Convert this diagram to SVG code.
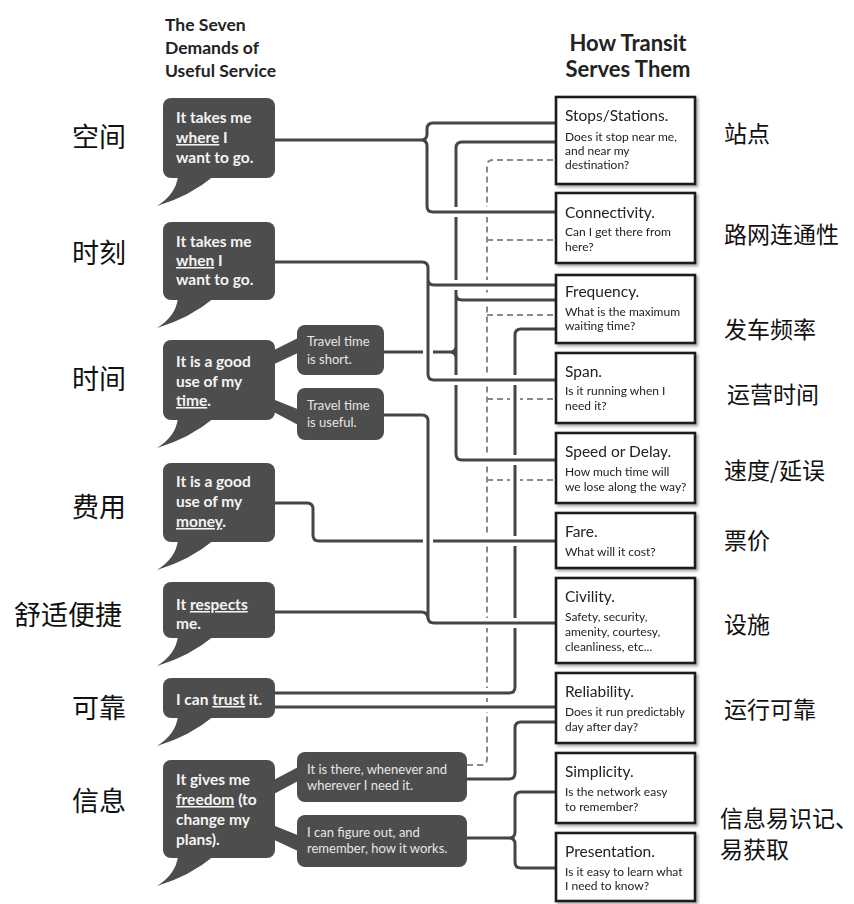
<svg xmlns="http://www.w3.org/2000/svg" width="854" height="904" viewBox="0 0 854 904">
<defs>
<style>
.hdr{font-family:Lato,"Open Sans",sans-serif;font-weight:bold;fill:#222}
.bt{font-family:Lato,"Open Sans",sans-serif;font-weight:bold;font-size:15.5px;fill:#f4f4f4}
.st{font-family:Lato,"Open Sans",sans-serif;font-size:13px;fill:#e6e6e6}
.bub{fill:#4d4d4d}
.box{fill:#fff;stroke:#1e1e1e;stroke-width:2.6}
.tt{font-family:Lato,"Open Sans",sans-serif;font-size:15.5px;fill:#222}
.ts{font-family:Lato,"Open Sans",sans-serif;font-size:12px;fill:#222}
.cnl{font-family:"Noto Sans CJK SC","Noto Sans",sans-serif;font-size:27px;fill:#111;text-anchor:end}
.cnr{font-family:"Noto Sans CJK SC","Noto Sans",sans-serif;font-size:23px;fill:#111}
.u{text-decoration:underline}
.w{fill:none;stroke:#fff;stroke-width:10}
.ln{fill:none;stroke:#454545;stroke-width:3}
.ds{fill:none;stroke:#8a8a8a;stroke-width:2;stroke-dasharray:6 4}
</style>
<filter id="sh" x="-10%" y="-10%" width="130%" height="130%">
<feDropShadow dx="2" dy="2" stdDeviation="1.5" flood-color="#000" flood-opacity="0.35"/>
</filter>
</defs>
<rect width="854" height="904" fill="#fff"/>

<g id="headers">
<text class="hdr" font-size="17.5" x="165" y="31">The Seven</text>
<text class="hdr" font-size="17.5" x="165" y="54">Demands of</text>
<text class="hdr" font-size="17.5" x="165" y="77">Useful Service</text>
<text class="hdr" font-size="22" x="628" y="51" text-anchor="middle">How Transit</text>
<text class="hdr" font-size="22" x="628" y="77" text-anchor="middle">Serves Them</text>
</g>

<g id="labels-left">
<text class="cnl" x="126" y="147">空间</text>
<text class="cnl" x="126" y="263">时刻</text>
<text class="cnl" x="126" y="389">时间</text>
<text class="cnl" x="126" y="517">费用</text>
<text class="cnl" x="122" y="625">舒适便捷</text>
<text class="cnl" x="126" y="718">可靠</text>
<text class="cnl" x="126" y="811">信息</text>
</g>

<g id="labels-right">
<text class="cnr" x="724" y="142">站点</text>
<text class="cnr" x="724" y="243">路网连通性</text>
<text class="cnr" x="724" y="338">发车频率</text>
<text class="cnr" x="727" y="403">运营时间</text>
<text class="cnr" x="724" y="479">速度/延误</text>
<text class="cnr" x="724" y="549">票价</text>
<text class="cnr" x="724" y="633">设施</text>
<text class="cnr" x="724" y="718">运行可靠</text>
<text class="cnr" x="720" y="827" font-size="20">信息易识记、</text>
<text class="cnr" x="720" y="858" font-size="20">易获取</text>
</g>

<g id="connectors">
<!-- dashed: whenever/wherever -->
<path class="ds" d="M467,765 H481 Q487,765 487,759 V166 Q487,160 493,160 H556 M487,240 H556 M487,315 H556 M487,399 H556 M487,480 H556"/>
<!-- trust -->
<path class="w" d="M275,693 H509 Q515,693 515,687 V335 Q515,329 521,329 H556 M275,707 H556"/>
<path class="ln" d="M275,693 H509 Q515,693 515,687 V335 Q515,329 521,329 H556 M275,707 H556"/>
<!-- there (solid) -->
<path class="w" d="M467,779 H509 Q515,779 515,773 V728 Q515,722 521,722 H556"/>
<path class="ln" d="M467,779 H509 Q515,779 515,773 V728 Q515,722 521,722 H556"/>
<!-- figure out -->
<path class="ln" d="M467,838 H509 Q515,838 515,832 V798 Q515,792 521,792 H556 M509,838 Q515,838 515,844 V862 Q515,868 521,868 H556"/>
<!-- travel time short -->
<path class="w" d="M556,142 H462 Q456,142 456,148 V454 Q456,460 462,460 H556 M456,294 Q456,300 462,300 H556 M383,352 H450 Q456,352 456,346 M450,352 Q456,352 456,358"/>
<path class="ln" d="M556,142 H462 Q456,142 456,148 V454 Q456,460 462,460 H556 M456,294 Q456,300 462,300 H556 M383,352 H450 Q456,352 456,346 M450,352 Q456,352 456,358"/>
<!-- money -->
<path class="w" d="M275,503 H307 Q313,503 313,509 V535 Q313,541 319,541 H556"/>
<path class="ln" d="M275,503 H307 Q313,503 313,509 V535 Q313,541 319,541 H556"/>
<!-- when -->
<path class="w" d="M275,262 H422 Q428,262 428,268 V374 Q428,380 434,380 H556 M428,279 Q428,285 434,285 H556"/>
<path class="ln" d="M275,262 H422 Q428,262 428,268 V374 Q428,380 434,380 H556 M428,279 Q428,285 434,285 H556"/>
<!-- useful + respects -->
<path class="w" d="M383,415 H422 Q428,415 428,421 V617 Q428,623 434,623 H556 M275,612 H421 Q428,612 428,619"/>
<path class="ln" d="M383,415 H422 Q428,415 428,421 V617 Q428,623 434,623 H556 M275,612 H421 Q428,612 428,619"/>
<!-- where -->
<path class="w" d="M275,140 H421 Q427,140 427,134 V129 Q427,123 433,123 H556 M421,140 Q427,140 427,146 V206 Q427,212 433,212 H556"/>
<path class="ln" d="M275,140 H421 Q427,140 427,134 V129 Q427,123 433,123 H556 M421,140 Q427,140 427,146 V206 Q427,212 433,212 H556"/>
</g>

<g id="demand-where">
<rect class="bub" x="163" y="98" width="112" height="80" rx="8"/>
<path class="bub" d="M178,176 Q176,194 157,206 Q190,196 214,176 Z"/>
<text class="bt" x="176" y="123">It takes me</text>
<text class="bt" x="176" y="143"><tspan class="u">where</tspan>  I</text>
<text class="bt" x="176" y="163">want to go.</text>
</g>

<g id="demand-when">
<rect class="bub" x="163" y="222" width="112" height="78" rx="8"/>
<path class="bub" d="M178,298 Q176,316 157,328 Q190,318 214,298 Z"/>
<text class="bt" x="176" y="247">It takes me</text>
<text class="bt" x="176" y="266"><tspan class="u">when</tspan>  I</text>
<text class="bt" x="176" y="285">want to go.</text>
</g>

<g id="demand-time">
<rect class="bub" x="163" y="340" width="112" height="80" rx="8"/>
<path class="bub" d="M178,418 Q176,436 157,448 Q190,438 214,418 Z"/>
<path class="bub" d="M270,352 L300,337 L300,352 L270,366 Z"/>
<path class="bub" d="M270,398 L300,410 L300,426 L270,410 Z"/>
<text class="bt" x="176" y="367">It is a good</text>
<text class="bt" x="176" y="387">use of my</text>
<text class="bt" x="176" y="406"><tspan class="u">time</tspan>.</text>
</g>

<g id="time-short">
<rect class="bub" x="297" y="325" width="87" height="50" rx="8"/>
<text class="st" x="307" y="346">Travel time</text>
<text class="st" x="307" y="364">is short.</text>
</g>

<g id="time-useful">
<rect class="bub" x="297" y="388" width="87" height="52" rx="8"/>
<text class="st" x="307" y="410">Travel time</text>
<text class="st" x="307" y="427">is useful.</text>
</g>

<g id="demand-money">
<rect class="bub" x="163" y="463" width="112" height="79" rx="8"/>
<path class="bub" d="M178,540 Q176,558 157,570 Q190,560 214,540 Z"/>
<text class="bt" x="176" y="487">It is a good</text>
<text class="bt" x="176" y="507">use of my</text>
<text class="bt" x="176" y="527"><tspan class="u">money</tspan>.</text>
</g>

<g id="demand-respects">
<rect class="bub" x="163" y="582" width="112" height="56" rx="8"/>
<path class="bub" d="M178,636 Q176,654 157,666 Q190,656 214,636 Z"/>
<text class="bt" x="176" y="610">It <tspan class="u">respects</tspan></text>
<text class="bt" x="176" y="629">me.</text>
</g>

<g id="demand-trust">
<rect class="bub" x="163" y="678" width="112" height="40" rx="8"/>
<path class="bub" d="M178,716 Q176,734 157,746 Q190,736 214,716 Z"/>
<text class="bt" x="176" y="705">I can <tspan class="u">trust</tspan> it.</text>
</g>

<g id="demand-freedom">
<rect class="bub" x="163" y="760" width="112" height="98" rx="8"/>
<path class="bub" d="M178,856 Q176,874 157,886 Q190,876 214,856 Z"/>
<path class="bub" d="M270,782 L300,766 L300,780 L270,796 Z"/>
<path class="bub" d="M270,824 L300,836 L300,852 L270,838 Z"/>
<text class="bt" x="176" y="785">It gives me</text>
<text class="bt" x="176" y="805"><tspan class="u">freedom</tspan> (to</text>
<text class="bt" x="176" y="825">change my</text>
<text class="bt" x="176" y="845">plans).</text>
</g>

<g id="freedom-there">
<rect class="bub" x="297" y="752" width="170" height="50" rx="8"/>
<text class="st" x="307" y="774">It is there, whenever and</text>
<text class="st" x="307" y="790">wherever I need it.</text>
</g>

<g id="freedom-figure">
<rect class="bub" x="297" y="815" width="170" height="52" rx="8"/>
<text class="st" x="307" y="837">I can figure out, and</text>
<text class="st" x="307" y="853">remember, how it works.</text>
</g>

<g id="box-stops" filter="url(#sh)">
<rect class="box" x="556" y="97" width="139" height="87"/>
<text class="tt" x="565" y="121">Stops/Stations.</text>
<text class="ts" x="565" y="141">Does it stop near me,</text>
<text class="ts" x="565" y="155">and near my</text>
<text class="ts" x="565" y="169">destination?</text>
</g>

<g id="box-connectivity" filter="url(#sh)">
<rect class="box" x="556" y="193" width="139" height="70"/>
<text class="tt" x="565" y="218">Connectivity.</text>
<text class="ts" x="565" y="236">Can I get there from</text>
<text class="ts" x="565" y="251">here?</text>
</g>

<g id="box-frequency" filter="url(#sh)">
<rect class="box" x="556" y="275" width="139" height="68"/>
<text class="tt" x="565" y="297">Frequency.</text>
<text class="ts" x="565" y="316">What is the maximum</text>
<text class="ts" x="565" y="330">waiting time?</text>
</g>

<g id="box-span" filter="url(#sh)">
<rect class="box" x="556" y="353" width="139" height="70"/>
<text class="tt" x="565" y="377">Span.</text>
<text class="ts" x="565" y="395">Is it running when I</text>
<text class="ts" x="565" y="410">need it?</text>
</g>

<g id="box-speed" filter="url(#sh)">
<rect class="box" x="556" y="433" width="139" height="70"/>
<text class="tt" x="565" y="457">Speed or Delay.</text>
<text class="ts" x="565" y="476">How much time will</text>
<text class="ts" x="565" y="491">we lose along the way?</text>
</g>

<g id="box-fare" filter="url(#sh)">
<rect class="box" x="556" y="513" width="139" height="55"/>
<text class="tt" x="565" y="537">Fare.</text>
<text class="ts" x="565" y="556">What will it cost?</text>
</g>

<g id="box-civility" filter="url(#sh)">
<rect class="box" x="556" y="578" width="139" height="85"/>
<text class="tt" x="565" y="602">Civility.</text>
<text class="ts" x="565" y="621">Safety, security,</text>
<text class="ts" x="565" y="636">amenity, courtesy,</text>
<text class="ts" x="565" y="651">cleanliness, etc...</text>
</g>

<g id="box-reliability" filter="url(#sh)">
<rect class="box" x="556" y="673" width="139" height="70"/>
<text class="tt" x="565" y="697">Reliability.</text>
<text class="ts" x="565" y="716">Does it run predictably</text>
<text class="ts" x="565" y="731">day after day?</text>
</g>

<g id="box-simplicity" filter="url(#sh)">
<rect class="box" x="556" y="753" width="139" height="70"/>
<text class="tt" x="565" y="777">Simplicity.</text>
<text class="ts" x="565" y="796">Is the network easy</text>
<text class="ts" x="565" y="811">to remember?</text>
</g>

<g id="box-presentation" filter="url(#sh)">
<rect class="box" x="556" y="833" width="139" height="68"/>
<text class="tt" x="565" y="857">Presentation.</text>
<text class="ts" x="565" y="876">Is it easy to learn what</text>
<text class="ts" x="565" y="890">I need to know?</text>
</g>
</svg>
